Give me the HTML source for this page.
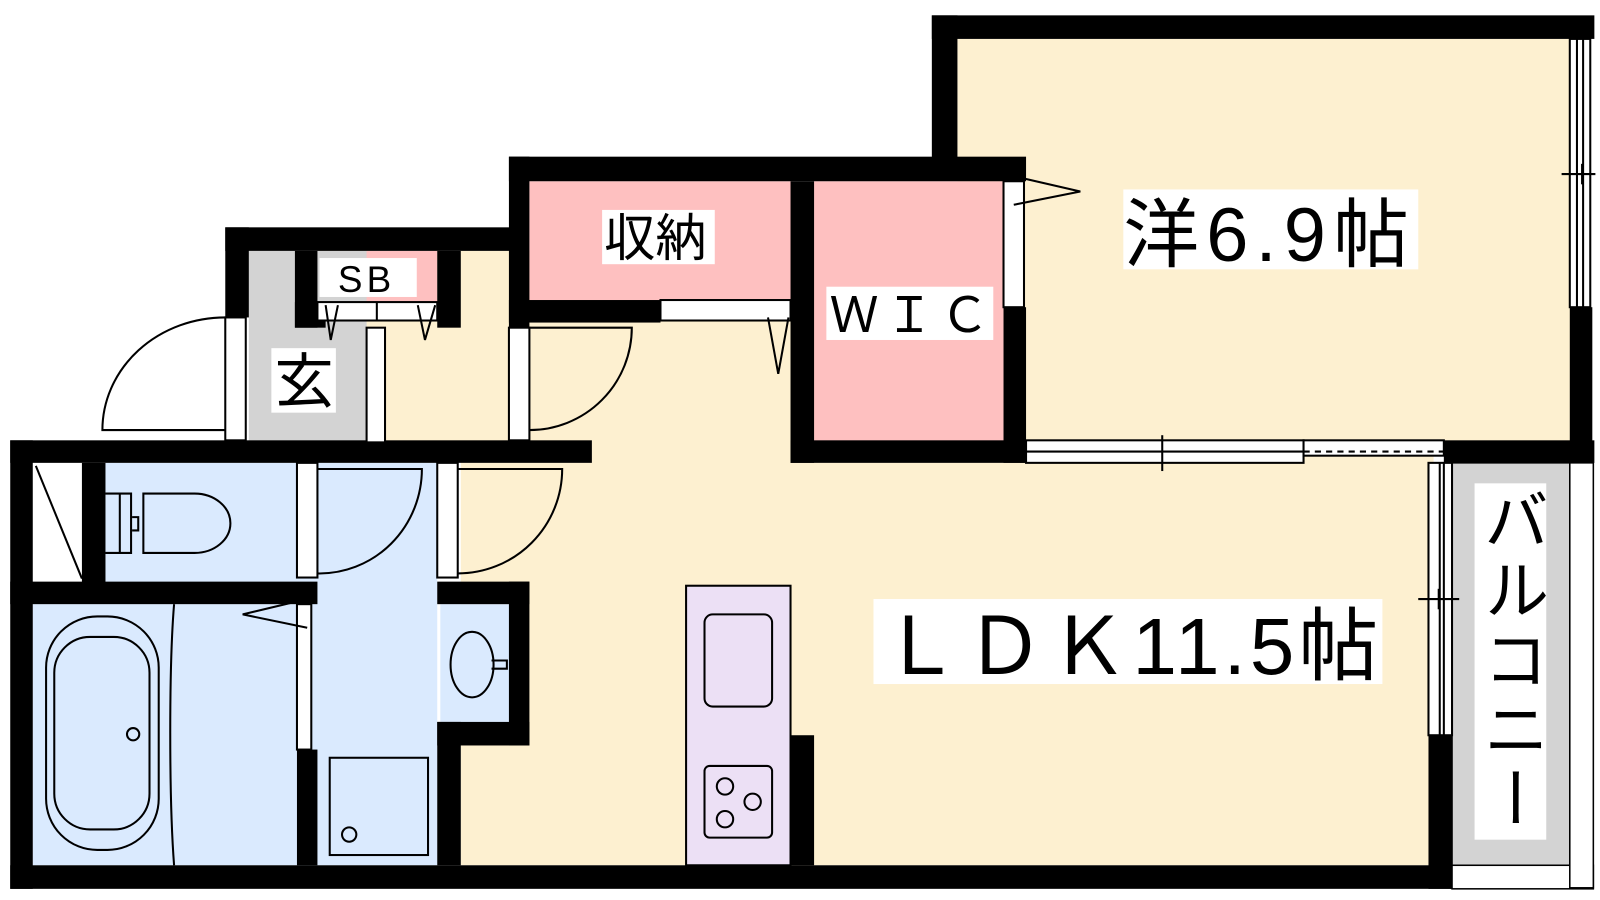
<!DOCTYPE html>
<html><head><meta charset="utf-8"><style>
html,body{margin:0;padding:0;background:#fff;width:1600px;height:900px;overflow:hidden}
text{font-family:"Liberation Sans","Noto Sans CJK JP",sans-serif;fill:#000}
</style></head><body>
<svg width="1600" height="900" viewBox="0 0 1600 900" xmlns="http://www.w3.org/2000/svg">
<g transform="scale(1.024)">
<rect x="935" y="38" width="600" height="395" fill="#fdf0d0"/>
<rect x="450" y="245" width="950" height="600" fill="#fdf0d0"/>
<rect x="310" y="245" width="190" height="190" fill="#fdf0d0"/>
<rect x="517" y="177" width="257" height="118" fill="#fec0c0"/>
<rect x="795" y="177" width="187" height="255" fill="#fec0c0"/>
<rect x="310" y="245" width="117" height="50" fill="#fec0c0"/>
<rect x="243" y="245" width="115" height="187" fill="#d3d3d3"/>
<rect x="103" y="452" width="187" height="118" fill="#daeafe"/>
<rect x="290" y="452" width="137" height="393" fill="#daeafe"/>
<rect x="32" y="590" width="260" height="255" fill="#daeafe"/>
<rect x="430" y="590" width="70" height="118" fill="#daeafe"/>
<rect x="32" y="452" width="48" height="118" fill="#fff"/>
<rect x="670" y="572" width="102" height="273" fill="#ece0f5" stroke="#000" stroke-width="2"/>
<rect x="1418" y="452" width="115" height="393" fill="#d3d3d3" stroke="#000" stroke-width="1.5"/>
<rect x="1418" y="845" width="138" height="23" fill="#fff" stroke="#000" stroke-width="1.5"/>
<rect x="1533" y="452" width="23" height="415" fill="#fff" stroke="#000" stroke-width="1.5"/>
<g fill="#000">
<rect x="910" y="15" width="647" height="23"/>
<rect x="910" y="15" width="25" height="140"/>
<rect x="1533" y="300" width="22" height="152"/>
<rect x="497" y="153" width="505" height="24"/>
<rect x="980" y="300" width="22" height="152"/>
<rect x="497" y="153" width="20" height="167"/>
<rect x="497" y="293" width="148" height="22"/>
<rect x="772" y="177" width="23" height="275"/>
<rect x="772" y="430" width="230" height="22"/>
<rect x="1410" y="430" width="147" height="22"/>
<rect x="220" y="222" width="280" height="23"/>
<rect x="220" y="222" width="23" height="88"/>
<rect x="288" y="245" width="22" height="75"/>
<rect x="427" y="245" width="23" height="75"/>
<rect x="288" y="295" width="30" height="25"/>
<rect x="10" y="430" width="568" height="22"/>
<rect x="10" y="430" width="22" height="438"/>
<rect x="10" y="845" width="1408" height="23"/>
<rect x="80" y="452" width="23" height="118"/>
<rect x="10" y="568" width="300" height="22"/>
<rect x="290" y="732" width="20" height="113"/>
<rect x="427" y="568" width="90" height="22"/>
<rect x="497" y="568" width="20" height="160"/>
<rect x="427" y="705" width="90" height="23"/>
<rect x="427" y="705" width="23" height="140"/>
<rect x="772" y="718" width="23" height="127"/>
<rect x="1395" y="718" width="23" height="150"/>
</g>
<g fill="#fff" stroke="#000" stroke-width="2">
<rect x="1533" y="38" width="20" height="262"/>
<rect x="1002" y="430" width="271" height="22"/>
<rect x="1273" y="430" width="137" height="15"/>
<rect x="1395" y="452" width="23" height="266"/>
<rect x="980" y="177" width="20" height="123"/>
<rect x="645" y="293" width="127" height="20"/>
<rect x="220" y="310" width="20" height="120"/>
<rect x="358" y="320" width="18" height="112"/>
<rect x="497" y="320" width="20" height="110"/>
<rect x="290" y="452" width="20" height="112"/>
<rect x="427" y="452" width="20" height="112"/>
<rect x="290" y="590" width="14" height="142"/>
<rect x="310" y="295" width="117" height="18"/>
</g>
<g fill="none" stroke="#000" stroke-width="2">
<line x1="1540" y1="38" x2="1540" y2="300"/><line x1="1546" y1="38" x2="1546" y2="300"/>
<line x1="1525" y1="170" x2="1558" y2="170"/><line x1="1545" y1="160" x2="1545" y2="180"/>
<line x1="1002" y1="441" x2="1273" y2="441"/><line x1="1135" y1="425" x2="1135" y2="460"/>
<line x1="1273" y1="441" x2="1410" y2="441" stroke-dasharray="6,5"/>
<line x1="1406" y1="452" x2="1406" y2="718"/><line x1="1410" y1="452" x2="1410" y2="718"/>
<line x1="1385" y1="585" x2="1425" y2="585"/><line x1="1405" y1="575" x2="1405" y2="595"/>
<line x1="368" y1="295" x2="368" y2="313"/>
<path d="M220,420 L100,420 A120,110 0 0 1 220,310"/>
<path d="M517,420 A100,100 0 0 0 617,320 L517,320"/>
<path d="M310,560 A100,102 0 0 0 412,458 L310,458"/>
<path d="M447,560 A102,102 0 0 0 549,458 L447,458"/>
<path d="M990,200 L1055,187 L990,172"/>
<path d="M750,310 L760,365 L770,310"/>
<path d="M318,298 L323,332 L330,298"/>
<path d="M408,298 L415,332 L425,298"/>
<path d="M300,613 L237,600 L300,585"/>
<path d="M35,455 L80,565"/>
<path d="M103,482 L128,482 L128,540 L103,540"/><path d="M117,482 L117,540 M129,505 L135,505 L135,518 L129,518"/>
<path d="M140,482 L190,482 A35,29 0 0 1 190,540 L140,540 Z"/>
<rect x="45" y="602" width="110" height="228" rx="50"/>
<rect x="53" y="622" width="93" height="188" rx="35"/>
<circle cx="130" cy="717" r="6"/>
<path d="M170,590 C165,650 165,780 170,845"/>
<rect x="322" y="740" width="96" height="95"/>
<circle cx="341" cy="815" r="7"/>
<ellipse cx="461" cy="649" rx="21" ry="32"/>
<path d="M480,645 L495,645 L495,653 L480,653"/>
<rect x="688" y="600" width="66" height="90" rx="8"/>
<rect x="688" y="748" width="66" height="70" rx="5"/>
<circle cx="708" cy="768" r="8"/><circle cx="735" cy="783" r="8"/><circle cx="708" cy="800" r="8"/>
</g>
<rect x="1097" y="185" width="288" height="78" fill="#fff"/>
<text x="1097" y="255" font-size="74" letter-spacing="7">洋6.9帖</text>
<rect x="853" y="585" width="497" height="83" fill="#fff"/>
<text x="860" y="658" font-size="78" letter-spacing="4">ＬＤＫ11.5帖</text>
<rect x="588" y="205" width="110" height="53" fill="#fff"/>
<text x="590" y="250" font-size="50">収納</text>
<rect x="807" y="280" width="163" height="52" fill="#fff"/>
<text x="810" y="324" font-size="48" letter-spacing="6">ＷＩＣ</text>
<rect x="312" y="252" width="95" height="38" fill="#fff"/>
<text x="330" y="285" font-size="36" letter-spacing="4">SB</text>
<rect x="265" y="340" width="63" height="63" fill="#fff"/>
<text x="268" y="393" font-size="58">玄</text>
<rect x="1440" y="472" width="70" height="348" fill="#fff"/>
<text x="1475" y="475" font-size="64" style="writing-mode:vertical-rl" letter-spacing="4">バルコニー</text>
</g>
</svg>
</body></html>
